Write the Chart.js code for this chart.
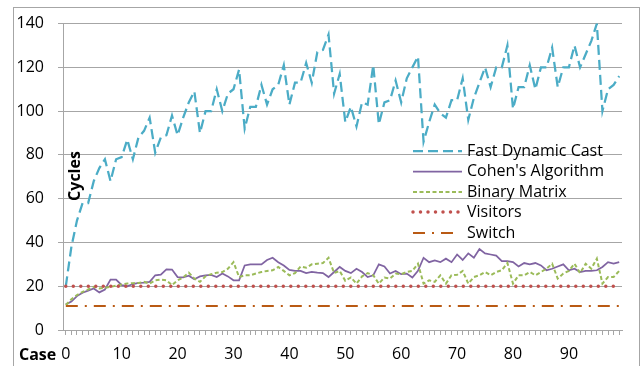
<!DOCTYPE html>
<html>
<head>
<meta charset="utf-8">
<script src="https://cdn.jsdelivr.net/npm/chart.js@4.4.1/dist/chart.umd.min.js"></script>
<style>
  html, body { margin: 0; padding: 0; background: #fff; }
  #wrap { position: relative; width: 641px; height: 366px; }
</style>
</head>
<body>
<div id="wrap"><canvas id="cycles"></canvas></div>
<script>
// case numbers along the x axis
const cases = [];
for (let i = 0; i < 100; i++) cases.push(i);

const fastDynamicCast = [
  20, 38, 50, 58, 58, 68, 74, 78, 68, 78,
  79, 87, 78, 88, 91, 97, 81, 88, 89, 98,
  89, 97, 104, 109, 90, 100, 100, 110, 100, 108,
  110, 119, 92, 102, 102, 112, 103, 110, 112, 121,
  103, 113, 113, 122, 113, 127, 128, 135, 108, 117,
  95, 102, 93, 104, 103, 121, 94, 104, 105, 114,
  104, 115, 120, 125, 86, 95, 103, 99, 97, 105,
  105, 115, 96, 106, 113, 120, 111, 120, 120, 130,
  101, 111, 111, 121, 110, 120, 120, 129, 111, 120,
  120, 130, 120, 126, 132, 140, 100, 110, 112, 116
];
const cohens = [
  11.7, 13, 15.5, 17, 18, 19, 17.2, 18.5, 23, 23,
  20.5, 20, 21, 21.5, 21.7, 22, 25, 25.3, 27.7, 27.6,
  24.2, 24, 24.8, 23.2, 24.5, 25, 25.2, 24.2, 25.8, 24.5,
  22.7, 22.7, 29.5, 30, 30, 30, 32, 33, 31, 29.5,
  27.5, 27, 27, 26, 26.5, 26.2, 26, 24.2, 26.5, 28.8,
  27, 26, 28, 26.5, 24.2, 25, 30, 29, 25.8, 27,
  25.5, 25.8, 24, 27, 33, 31, 31.8, 31, 32.6, 31,
  34.5, 32, 35, 33, 37, 35, 34.5, 34, 31.5, 31.5,
  31, 29, 30.6, 30, 30.6, 29.5, 27.3, 28, 29, 30,
  27.3, 28, 26.5, 27, 27, 27.3, 28.8, 31, 30.3, 31
];
const binaryMatrix = [
  11.4, 14, 16, 17.4, 18.5, 19.7, 19, 19.3, 19.7, 20.3,
  20.8, 21.2, 21.4, 21.5, 22, 21.2, 22.7, 23, 22.7, 20.5,
  22.7, 24, 26.2, 23.5, 22, 24.5, 25.5, 26.2, 26.5, 28,
  31, 24.2, 25, 25, 25.8, 26.5, 27, 27.3, 28.8, 27,
  25, 26, 29, 28.5, 30, 30.3, 30.6, 33, 26, 27,
  22.5, 24, 21.2, 24.5, 26, 25, 21.2, 24, 23.5, 25.8,
  25.5, 26.5, 27, 30.3, 21.2, 22.7, 22, 25, 21.2, 25,
  25.2, 27, 21.2, 24.2, 25, 26.5, 25, 26.5, 27.3, 30.6,
  21.2, 25, 25, 26.5, 25, 26.5, 28, 30.3, 23.5, 25.8,
  27, 30.3, 26, 30.3, 28, 32.6, 21.2, 24.2, 24.2, 27
];
const visitors = cases.map(() => 20);
const switchCase = cases.map(() => 11);

const yTicks = [0, 20, 40, 60, 80, 100, 120, 140];

const FONT = "'Open Sans', 'Liberation Sans', sans-serif";
const GRID = "#a6a6a6";

// legend drawn inside the plot, like the original
const innerLegend = {
  id: "innerLegend",
  afterDatasetsDraw(chart) {
    const ctx = chart.ctx;
    const x0 = 413, x1 = 462, tx = 467;
    const rows = [151, 171.5, 192, 212, 233];
    chart.data.datasets.forEach((ds, i) => {
      const y = rows[i];
      ctx.save();
      ctx.strokeStyle = ds.borderColor;
      ctx.lineWidth = ds.borderWidth;
      ctx.lineCap = ds.borderCapStyle || "butt";
      ctx.setLineDash(ds.borderDash || []);
      ctx.beginPath();
      ctx.moveTo(x0, y);
      ctx.lineTo(ds.legendEnd || x1, y);
      ctx.stroke();
      ctx.restore();
      ctx.save();
      ctx.fillStyle = "#000";
      ctx.font = "16px " + FONT;
      ctx.textBaseline = "middle";
      ctx.fillText(ds.label, tx, y);
      ctx.restore();
    });
  }
};

const frameAndTitles = {
  id: "frameAndTitles",
  beforeDraw(chart) {
    const ctx = chart.ctx;
    ctx.save();
    ctx.fillStyle = "#fff";
    ctx.fillRect(0, 0, chart.width, chart.height);
    ctx.strokeStyle = GRID;
    ctx.lineWidth = 1;
    ctx.strokeRect(13.5, 7.5, 626, 370);
    ctx.restore();
  },
  afterDraw(chart) {
    const ctx = chart.ctx;
    ctx.save();
    ctx.fillStyle = "#000";
    ctx.font = "bold 16px " + FONT;
    ctx.textBaseline = "middle";
    ctx.fillText("Case", 19, 355);
    ctx.translate(75, 176);
    ctx.rotate(-Math.PI / 2);
    ctx.textAlign = "center";
    ctx.fillText("Cycles", 0, 0);
    ctx.restore();
  }
};

new Chart(document.getElementById("cycles"), {
  type: "line",
  data: {
    labels: cases,
    datasets: [
      {
        label: "Fast Dynamic Cast",
        data: fastDynamicCast,
        borderColor: "#4bacc6",
        borderWidth: 2.25,
        borderDash: [10, 5],
        order: 4
      },
      {
        label: "Cohen's Algorithm",
        data: cohens,
        borderColor: "#8064a2",
        borderWidth: 1.75,
        order: 3
      },
      {
        label: "Binary Matrix",
        data: binaryMatrix,
        borderColor: "#9bbb59",
        borderWidth: 2,
        borderDash: [4, 2.5],
        order: 2
      },
      {
        label: "Visitors",
        data: visitors,
        borderColor: "#c0504d",
        borderWidth: 3.5,
        borderDash: [0, 7.5],
        borderCapStyle: "round",
        legendEnd: 460,
        order: 1
      },
      {
        label: "Switch",
        data: switchCase,
        borderColor: "#b95a14",
        borderWidth: 2,
        borderDash: [12, 7, 2, 7],
        legendEnd: 455,
        order: 0
      }
    ]
  },
  options: {
    responsive: true,
    maintainAspectRatio: false,
    animation: false,
    layout: { padding: { left: 0, right: 19, top: 20, bottom: 0 } },
    elements: {
      point: { radius: 0, hoverRadius: 0 },
      line: { tension: 0 }
    },
    plugins: {
      legend: { display: false },
      tooltip: { enabled: false }
    },
    scales: {
      x: {
        type: "linear",
        min: -0.5,
        max: 99.5,
        afterBuildTicks: (scale) => { scale.ticks = cases.map(v => ({ value: v })); },
        afterFit: (scale) => { scale.height = 36; },
        ticks: {
          autoSkip: false,
          maxRotation: 0,
          padding: 10,
          color: "#000",
          font: { family: FONT, size: 16 },
          callback: (v) => (v % 10 === 0 ? String(v) : "")
        },
        grid: { drawOnChartArea: false, drawTicks: true, tickLength: 5, color: GRID },
        border: { color: GRID, width: 1 }
      },
      y: {
        min: 0,
        max: 140,
        afterBuildTicks: (scale) => { scale.ticks = yTicks.map(v => ({ value: v })); },
        afterFit: (scale) => { scale.width = 63; },
        ticks: {
          padding: 14,
          color: "#000",
          font: { family: FONT, size: 16 }
        },
        grid: { color: GRID, lineWidth: 1, tickLength: 5 },
        border: { color: GRID, width: 1 }
      }
    }
  },
  plugins: [frameAndTitles, innerLegend]
});
</script>
</body>
</html>
